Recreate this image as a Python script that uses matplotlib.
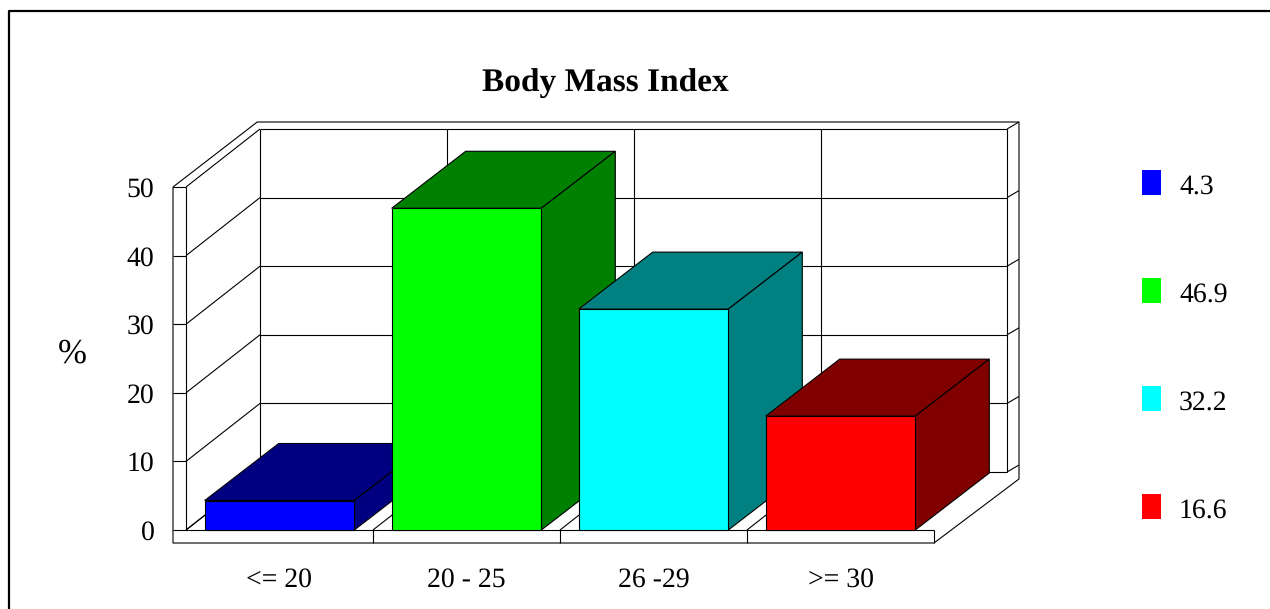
#! /usr/bin/env python

# Body Mass Index, fake 3D bars drawn with an oblique offset
import matplotlib

matplotlib.use("Agg")
import matplotlib.pyplot as plt
from matplotlib.patches import Polygon, Rectangle

categories = ["<= 20", "20 - 25", "26 -29", ">= 30"]
values = [4.3, 46.9, 32.2, 16.6]
front_colors = ["#0000ff", "#00ff00", "#00ffff", "#ff0000"]
side_colors = ["#000080", "#008000", "#008080", "#800000"]
yticks = [0, 10, 20, 30, 40, 50]

W, H = 1270, 609
plt.rcParams["font.family"] = ["Liberation Serif", "DejaVu Serif"]
plt.rcParams["text.hinting"] = "no_hinting"

fig = plt.figure(figsize=(W / 100, H / 100), dpi=100)

# overlay in pixels for the frame, title and legend
bg = fig.add_axes([0, 0, 1, 1], zorder=0)
bg.set_xlim(0, W)
bg.set_ylim(H, 0)
bg.axis("off")

# front plane: x in categories, y in percent
left, right, y0, y50 = 186, 934, 530, 187
ax = fig.add_axes(
    [left / W, 1 - y0 / H, (right - left) / W, (y0 - y50) / H], zorder=1
)
ax.patch.set_visible(False)
ax.set_xlim(0, 4)
ax.set_ylim(0, 50)
for s in ax.spines.values():
    s.set_visible(False)

# depth of the box
dx = 74 / 187
dy = 58 / 6.86
# bars are a touch shallower than the box
bar_dy = 57 / 6.86
# outer strip around walls
sx = 13 / 187
sy = 13 / 6.86
# right strip beyond the back wall
rx = 11 / 187
ry = 7 / 6.86
lw = 0.8
kw = dict(color="black", lw=lw, clip_on=False, zorder=1, solid_capstyle="butt")

# back wall and side wall grid
for v in yticks:
    ax.plot([dx, 4 + dx - 0.005], [v + dy, v + dy], **kw)
    ax.plot([0, dx], [v, v + dy], **kw)
    ax.plot([-sx, 0], [v, v], **kw)
    ax.plot([4 + dx - 0.005, 4 + dx + rx], [v + dy, v + dy + ry], **kw)
for i in range(5):
    ax.plot([i + dx - (0.005 if i == 4 else 0)] * 2, [dy, 50 + dy], **kw)
    if i < 4:
        ax.plot([i, i + dx], [0, dy], **kw)
    if 0 < i:
        ax.plot([i, i], [-sy, 0], **kw)

# outer outline
ax.plot(
    [-sx, -sx, 4, 4 + dx + rx, 4 + dx + rx, dx - 0.015, -sx],
    [50, -sy, -sy, dy - ry, 50 + dy + ry, 50 + dy + ry, 50],
    **kw,
)
ax.plot([0, 0], [0, 50], **kw)
ax.plot([0, 4], [0, 0], **kw)

# bars, left to right so that each one covers the side of the previous
for i, (v, c, d) in enumerate(zip(values, front_colors, side_colors)):
    x0 = i + 0.1
    x1 = i + 0.9
    z = 2 + i
    ax.add_patch(
        Polygon(
            [(x0, v), (x0 + dx, v + bar_dy), (x1 + dx, v + bar_dy), (x1, v)],
            fc=d,
            ec="black",
            lw=lw,
            zorder=z,
            clip_on=False,
        )
    )
    ax.add_patch(
        Polygon(
            [(x1, 0), (x1 + dx, bar_dy), (x1 + dx, v + bar_dy), (x1, v)],
            fc=d,
            ec="black",
            lw=lw,
            zorder=z,
            clip_on=False,
        )
    )
    ax.add_patch(
        Rectangle(
            (x0, 0), x1 - x0, v, fc=c, ec="black", lw=lw, zorder=z, clip_on=False
        )
    )

ax.set_xticks([i + 0.5 for i in range(len(categories))])
ax.set_xticklabels(categories, fontsize=20)
ax.set_yticks(yticks)
ax.tick_params(axis="both", length=0, labelsize=20)
ax.tick_params(axis="x", pad=26.5)
ax.tick_params(axis="y", pad=22.8)

# frame is open at the bottom and right
bg.plot([9, 9, W], [H, 11, 11], color="black", lw=1.6)
bg.text(
    605, 84, "Body Mass Index", ha="center", va="center", fontsize=24, fontweight="bold"
)
bg.text(72, 354, "%", ha="center", va="center", fontsize=25)

# legend, one swatch per bar
for i, (v, c) in enumerate(zip(values, front_colors)):
    top = 170 + 108 * i
    bg.add_patch(Rectangle((1142, top), 19, 25, fc=c, ec="none"))
    bg.text(1179, top + 17, str(v), ha="left", va="center", fontsize=20)

fig.savefig("out.png", dpi=100)
